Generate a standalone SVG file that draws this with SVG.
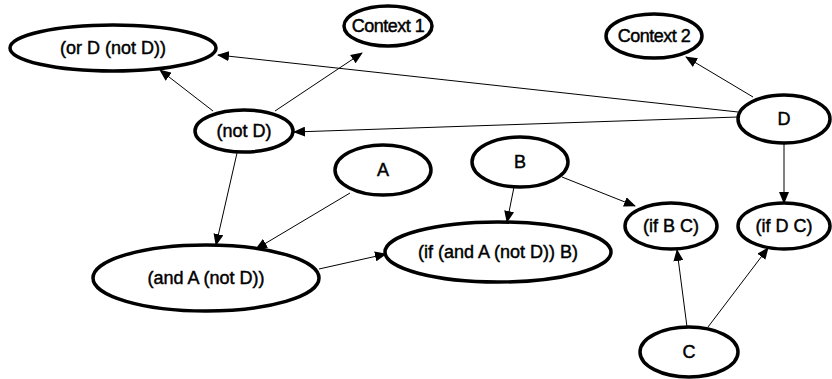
<svg xmlns="http://www.w3.org/2000/svg" width="832" height="379" viewBox="0 0 832 379">
  <style>
    .node ellipse { fill: #ffffff; stroke: #000000; stroke-width: 3.5; }
    .node text { font-family: "Liberation Sans", Arial, sans-serif; font-size: 18px; fill: #000000; stroke: #000000; stroke-width: 0.45; text-anchor: middle; }
    .node text.tight { letter-spacing: -0.5px; }
    .edge { stroke: #000000; stroke-width: 1; fill: none; marker-end: url(#arrow); }
  </style>
  <defs>
    <marker id="arrow" markerUnits="userSpaceOnUse" markerWidth="12" markerHeight="10" viewBox="0 0 12 10" refX="11" refY="5" orient="auto">
      <path d="M0,0 L12,5 L0,10 Z" fill="#000000"/>
    </marker>
  </defs>
  <rect width="832" height="379" fill="#ffffff"/>

  <g id="connectors">
    <line class="edge" x1="213" y1="111" x2="160" y2="70"/>
    <line class="edge" x1="275" y1="111" x2="362" y2="53"/>
    <line class="edge" x1="738" y1="112" x2="218" y2="55"/>
    <line class="edge" x1="738" y1="117" x2="294" y2="132"/>
    <line class="edge" x1="753" y1="97" x2="686" y2="57"/>
    <line class="edge" x1="784" y1="143" x2="784" y2="203"/>
    <line class="edge" x1="237" y1="153" x2="216" y2="245"/>
    <line class="edge" x1="350" y1="193" x2="256" y2="249"/>
    <line class="edge" x1="319" y1="269" x2="386" y2="254"/>
    <line class="edge" x1="514" y1="187" x2="507" y2="222"/>
    <line class="edge" x1="562" y1="177" x2="635" y2="206"/>
    <line class="edge" x1="687" y1="327" x2="677" y2="250"/>
    <line class="edge" x1="708" y1="327" x2="768" y2="248"/>
  </g>

  <g id="or-D-not-D" class="node">
    <ellipse cx="113" cy="48" rx="103" ry="23"/>
    <text x="113" y="54">(or D (not D))</text>
  </g>
  <g id="context-1" class="node">
    <ellipse cx="388" cy="26" rx="44" ry="20"/>
    <text class="tight" x="388" y="32">Context 1</text>
  </g>
  <g id="context-2" class="node">
    <ellipse cx="654" cy="36" rx="48" ry="22"/>
    <text class="tight" x="654" y="42">Context 2</text>
  </g>
  <g id="not-D" class="node">
    <ellipse cx="244" cy="131" rx="49" ry="21"/>
    <text x="244" y="137">(not D)</text>
  </g>
  <g id="D" class="node">
    <ellipse cx="784" cy="119" rx="46" ry="24"/>
    <text x="784" y="125">D</text>
  </g>
  <g id="A" class="node">
    <ellipse cx="383" cy="170" rx="48" ry="25"/>
    <text x="383" y="176">A</text>
  </g>
  <g id="B" class="node">
    <ellipse cx="520" cy="162" rx="48" ry="25"/>
    <text x="520" y="168">B</text>
  </g>
  <g id="and-A-not-D" class="node">
    <ellipse cx="206" cy="278" rx="113" ry="33"/>
    <text x="206" y="284">(and A (not D))</text>
  </g>
  <g id="if-and-A-not-D-B" class="node">
    <ellipse cx="498" cy="252" rx="113" ry="30"/>
    <text x="498" y="258">(if (and A (not D)) B)</text>
  </g>
  <g id="if-B-C" class="node">
    <ellipse cx="671" cy="226" rx="46" ry="23"/>
    <text x="671" y="232">(if B C)</text>
  </g>
  <g id="if-D-C" class="node">
    <ellipse cx="784" cy="226" rx="46" ry="23"/>
    <text x="784" y="232">(if D C)</text>
  </g>
  <g id="C" class="node">
    <ellipse cx="689" cy="352" rx="49" ry="25"/>
    <text x="689" y="358">C</text>
  </g>
</svg>
